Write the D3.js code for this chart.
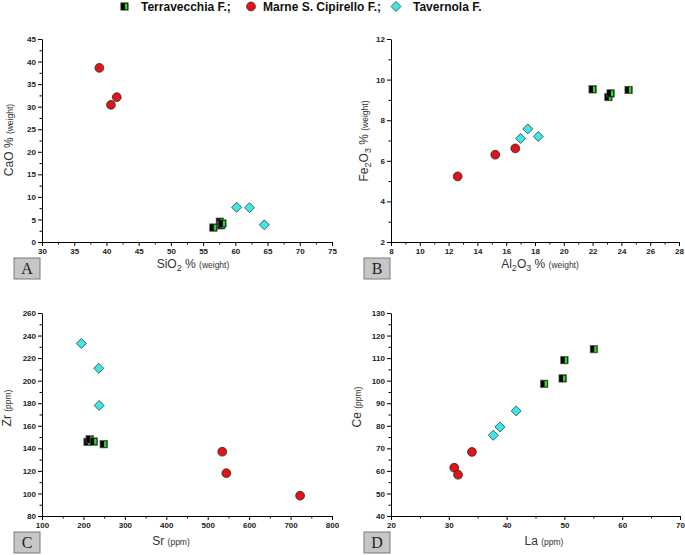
<!DOCTYPE html>
<html>
<head>
<meta charset="utf-8">
<script src="https://cdn.jsdelivr.net/npm/d3@7/dist/d3.min.js"></script>
<style>
  html, body { margin: 0; padding: 0; background: #fff; }
  svg { display: block; }
  .tick text { font-family: "Liberation Sans", Arial, sans-serif; font-weight: bold; font-size: 8px; fill: #222; }
  .domain, .tick line { stroke: #000; stroke-width: 1; }
</style>
</head>
<body>
<svg id="chart" width="685" height="555"></svg>
<script>
// ---------------- DATA ----------------
const seriesNames = ["Terravecchia F.;", "Marne S. Cipirello F.;", "Tavernola F."];

// Panel A: SiO2 vs CaO (% weight)
const terraSiO2 = [56.6, 57.6, 57.8, 58.0];
const terraCaO  = [3.2, 4.5, 3.7, 4.1];
const marneSiO2 = [38.9, 41.6, 40.7];
const marneCaO  = [38.6, 32.1, 30.4];
const tavSiO2   = [60.2, 62.2, 64.5];
const tavCaO    = [7.7, 7.6, 3.8];

// Panel B: Al2O3 vs Fe2O3 (% weight)
const terraAl2O3 = [22.0, 23.1, 23.25, 24.5];
const terraFe2O3 = [9.52, 9.14, 9.32, 9.49];
const marneAl2O3 = [12.63, 15.24, 16.63];
const marneFe2O3 = [5.23, 6.30, 6.61];
const tavAl2O3   = [17.0, 17.5, 18.23];
const tavFe2O3   = [7.10, 7.57, 7.20];

// Panel C: Sr vs Zr (ppm)
const terraSr = [210, 215, 225, 249];
const terraZr = [145.7, 148, 146, 143.7];
const marneSr = [535, 545, 723];
const marneZr = [137, 118, 98];
const tavSr   = [195, 237, 238];
const tavZr   = [233, 211, 178];

// Panel D: La vs Ce (ppm)
const terraLa = [46.5, 49.7, 50.0, 55.1];
const terraCe = [98.6, 101, 109.1, 114];
const marneLa = [30.94, 31.6, 34.0];
const marneCe = [61.4, 58.3, 68.4];
const tavLa   = [37.7, 38.84, 41.66];
const tavCe   = [75.8, 79.5, 86.6];

// Tick labels
const ticksAx = [30, 35, 40, 45, 50, 55, 60, 65, 70, 75];
const ticksAy = [0, 5, 10, 15, 20, 25, 30, 35, 40, 45];
const ticksBx = [8, 10, 12, 14, 16, 18, 20, 22, 24, 26, 28];
const ticksBy = [2, 4, 6, 8, 10, 12];
const ticksCx = [100, 200, 300, 400, 500, 600, 700, 800];
const ticksCy = [80, 100, 120, 140, 160, 180, 200, 220, 240, 260];
const ticksDx = [20, 30, 40, 50, 60, 70];
const ticksDy = [40, 50, 60, 70, 80, 90, 100, 110, 120, 130];

const panelLetters = ["A", "B", "C", "D"];

// ---------------- LAYOUT ----------------
const svg = d3.select("#chart");
const FONT = '"Liberation Sans", Arial, sans-serif';

const zip = (xs, ys) => xs.map((x, i) => [x, ys[i]]);

const panels = [
  { letter: panelLetters[0], xt: ticksAx, yt: ticksAy, px: [42, 332], py: [242, 39],
    series: [zip(terraSiO2, terraCaO), zip(marneSiO2, marneCaO), zip(tavSiO2, tavCaO)],
    xTitle: [["SiO", 12, 0], ["2", 9, 3], [" % ", 12, 0], ["(weight)", 8.5, 0]], xTitlePos: [193, 268],
    yTitle: [["CaO % ", 12, 0], ["(weight)", 8.5, 0]], yTitlePos: [13, 140],
    box: [14, 258] },
  { letter: panelLetters[1], xt: ticksBx, yt: ticksBy, px: [391, 679], py: [242, 39],
    series: [zip(terraAl2O3, terraFe2O3), zip(marneAl2O3, marneFe2O3), zip(tavAl2O3, tavFe2O3)],
    xTitle: [["Al", 12, 0], ["2", 9, 3], ["O", 12, 0], ["3", 9, 3], [" % ", 12, 0], ["(weight)", 8.5, 0]], xTitlePos: [540, 268],
    yTitle: [["Fe", 12, 0], ["2", 9, 3], ["O", 12, 0], ["3", 9, 3], [" % ", 12, 0], ["(weight)", 8.5, 0]], yTitlePos: [368, 141],
    box: [364, 258] },
  { letter: panelLetters[2], xt: ticksCx, yt: ticksCy, px: [42, 332], py: [516, 313],
    series: [zip(terraSr, terraZr), zip(marneSr, marneZr), zip(tavSr, tavZr)],
    xTitle: [["Sr ", 12, 0], ["(ppm)", 8.5, 0]], xTitlePos: [171, 545],
    yTitle: [["Zr ", 12, 0], ["(ppm)", 8.5, 0]], yTitlePos: [11, 408],
    box: [14, 532] },
  { letter: panelLetters[3], xt: ticksDx, yt: ticksDy, px: [391, 680], py: [516, 313],
    series: [zip(terraLa, terraCe), zip(marneLa, marneCe), zip(tavLa, tavCe)],
    xTitle: [["La ", 12, 0], ["(ppm)", 8.5, 0]], xTitlePos: [544, 545],
    yTitle: [["Ce ", 12, 0], ["(ppm)", 8.5, 0]], yTitlePos: [361, 407],
    box: [364, 532] }
];

// ---------------- MARKERS ----------------
function drawSquare(g, x, y, s) {
  const m = g.append("g").attr("transform", `translate(${x},${y})`);
  m.append("rect").attr("x", -s / 2).attr("y", -s / 2).attr("width", s).attr("height", s)
    .attr("fill", "#000").attr("stroke", "#5a5a5a").attr("stroke-width", 0.7);
  m.append("rect").attr("x", s * 0.05).attr("y", -s / 2 + 0.8).attr("width", s * 0.33).attr("height", s - 1.6)
    .attr("fill", "#22dd22");
}
function drawCircle(g, x, y, r) {
  g.append("circle").attr("cx", x).attr("cy", y).attr("r", r)
    .attr("fill", "#e31414").attr("stroke", "#2a2a2a").attr("stroke-width", 0.8);
}
function drawDiamond(g, x, y, h) {
  g.append("path").attr("d", `M${x},${y - h}L${x + h},${y}L${x},${y + h}L${x - h},${y}Z`)
    .attr("fill", "#3fe6e6").attr("stroke", "#2f3f3f").attr("stroke-width", 0.8);
}
const markers = [
  (g, x, y) => drawSquare(g, x, y, 7.4),
  (g, x, y) => drawCircle(g, x, y, 4.4),
  (g, x, y) => drawDiamond(g, x, y, 5)
];

function titleText(parent, parts, x, y, rotate) {
  const t = parent.append("text")
    .attr("font-family", FONT).attr("fill", "#333")
    .attr("text-anchor", "middle")
    .attr("transform", rotate ? `translate(${x},${y}) rotate(-90)` : `translate(${x},${y})`);
  parts.forEach(([s, size, dy], i) => {
    const prevDy = i > 0 ? parts[i - 1][2] : 0;
    t.append("tspan").attr("font-size", size).attr("dy", dy - prevDy).text(s);
  });
  return t;
}

// ---------------- PANELS ----------------
panels.forEach(p => {
  const xs = d3.scaleLinear().domain(d3.extent(p.xt)).range(p.px);
  const ys = d3.scaleLinear().domain(d3.extent(p.yt)).range(p.py);
  const g = svg.append("g");

  const mid = arr => arr.slice(1).map((v, i) => (v + arr[i]) / 2);

  // minor ticks
  g.append("g").attr("transform", `translate(0,${p.py[0]})`)
    .call(d3.axisBottom(xs).tickValues(mid(p.xt)).tickSize(2.5).tickSizeOuter(0).tickFormat(""))
    .call(a => a.select(".domain").remove());
  g.append("g").attr("transform", `translate(${p.px[0]},0)`)
    .call(d3.axisLeft(ys).tickValues(mid(p.yt)).tickSize(2.5).tickSizeOuter(0).tickFormat(""))
    .call(a => a.select(".domain").remove());

  // major ticks
  g.append("g").attr("transform", `translate(0,${p.py[0]})`)
    .call(d3.axisBottom(xs).tickValues(p.xt).tickSize(4).tickPadding(2).tickSizeOuter(0).tickFormat(d3.format("d")));
  g.append("g").attr("transform", `translate(${p.px[0]},0)`)
    .call(d3.axisLeft(ys).tickValues(p.yt).tickSize(4).tickPadding(2).tickSizeOuter(0).tickFormat(d3.format("d")));

  // points
  const pg = g.append("g");
  p.series.forEach((pts, si) => {
    pts.forEach(([vx, vy]) => markers[si](pg, xs(vx), ys(vy)));
  });

  // titles
  titleText(g, p.xTitle, p.xTitlePos[0], p.xTitlePos[1], false);
  titleText(g, p.yTitle, p.yTitlePos[0], p.yTitlePos[1], true);

  // panel letter box
  const [bx, by] = p.box;
  g.append("rect").attr("x", bx).attr("y", by).attr("width", 26).attr("height", 21)
    .attr("fill", "#c6c6c6").attr("stroke", "#7a7a7a").attr("stroke-width", 1);
  g.append("text").attr("x", bx + 13).attr("y", by + 16)
    .attr("text-anchor", "middle")
    .attr("font-family", '"Liberation Serif", "Times New Roman", serif')
    .attr("font-size", 16).attr("fill", "#222").text(p.letter);
});

// ---------------- LEGEND ----------------
const lg = svg.append("g");
const legendItems = [
  { mx: 124.5, tx: 141 },
  { mx: 251, tx: 263 },
  { mx: 396, tx: 413 }
];
legendItems.forEach((it, i) => {
  markers[i](lg, it.mx, 6.5);
  lg.append("text").attr("x", it.tx).attr("y", 10.8)
    .attr("font-family", FONT).attr("font-weight", "bold").attr("font-size", 12)
    .attr("fill", "#111").text(seriesNames[i]);
});
</script>
</body>
</html>
